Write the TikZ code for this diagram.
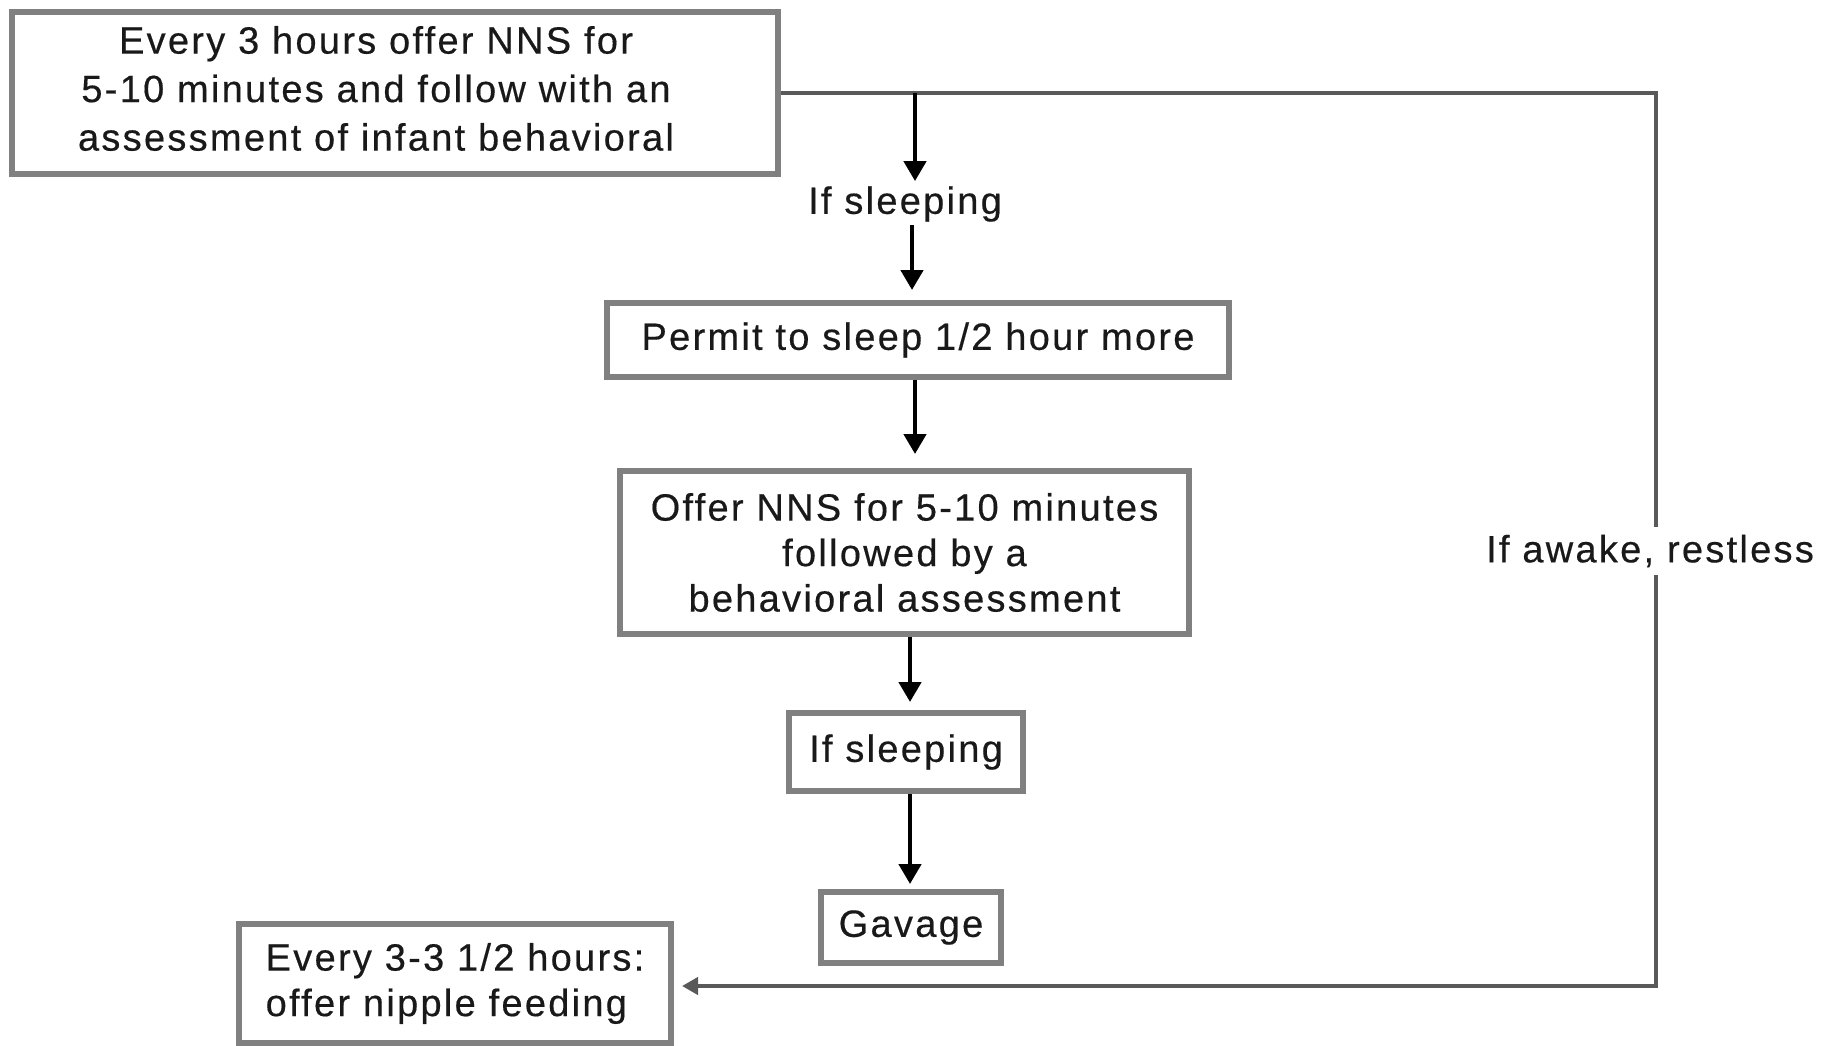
\documentclass[tikz,border=0pt]{standalone}
\usepackage{fontspec}
\setmainfont{Liberation Sans}[LetterSpace=6,FakeBold=0.4]
\usetikzlibrary{arrows.meta,calc}
\begin{document}
\begin{tikzpicture}[x=1pt,y=-1pt,
  font=\fontsize{38}{45.5}\selectfont,
  box/.style={draw=gray, line width=6pt, inner sep=0pt, align=center, text=black!90},
  lbl/.style={inner sep=3pt, align=center, text=black!90},
  arr/.style={line width=4.5pt, draw=black, -{Triangle[length=20pt,width=22pt]}, shorten >=4pt},
  loopline/.style={line width=4pt, draw=gray!70!black}]
\useasboundingbox (0,0) rectangle (1823,1045);
\fill[white] (0,0) rectangle (1823,1045);

\node[draw=gray, line width=6pt, inner sep=0pt, text=black!90, minimum width=766pt, minimum height=162pt] (top) at (395,93)
  {\renewcommand{\arraystretch}{1}\setlength{\baselineskip}{45.5pt}%
   \begin{tabular}{@{}c@{}}Every 3 hours offer NNS for\\[3pt]5-10 minutes and follow with an\\[3pt]assessment of infant behavioral\end{tabular}\hspace*{38pt}};
\node[lbl] (s1) at (905,204) {If sleeping};
\node[box, minimum width=622pt, minimum height=74pt] (permit) at (918,340) {Permit to sleep 1/2 hour more};
\node[box, minimum width=569pt, minimum height=163pt] (offer) at (904.5,552.5)
  {Offer NNS for 5-10 minutes\\followed by a\\behavioral assessment};
\node[box, minimum width=234pt, minimum height=78pt] (s2) at (906,752) {If sleeping};
\node[box, minimum width=180pt, minimum height=71pt] (gav) at (911,927.5) {Gavage};
\node[box, minimum width=432pt, minimum height=119pt, align=left] (nip) at (455,983.5)
  {Every 3-3 1/2 hours:\\offer nipple feeding};

\coordinate (j) at (915,93);
\coordinate (c1) at (1656,93);
\coordinate (c2) at (1656,986);
\coordinate (col) at (912,0);

% loop to nipple feeding
\draw[loopline] (top.east) -- (c1) -- (c2) -- (c2 -| 700,0);
\draw[line width=4pt, draw=gray!70!black, -{Triangle[length=16pt,width=17pt]}, shorten >=8pt]
  (c2 -| 720,0) -- (c2 -| nip.east);
\node[lbl, fill=white, inner ysep=8pt] (aw) at (1650,551) {If awake, restless};

% main column
\draw[arr, shorten >=2pt] (j) -- (s1.north -| j);
\draw[arr, shorten >=10pt] (s1.south -| col) -- (permit.north -| col);
\draw[arr, shorten >=14pt] (permit.south -| j) -- (offer.north -| j);
\draw[arr, shorten >=8pt] (offer.south -| 910,0) -- (s2.north -| 910,0);
\draw[arr, shorten >=5pt] (s2.south -| 910,0) -- (gav.north -| 910,0);
\end{tikzpicture}
\end{document}
